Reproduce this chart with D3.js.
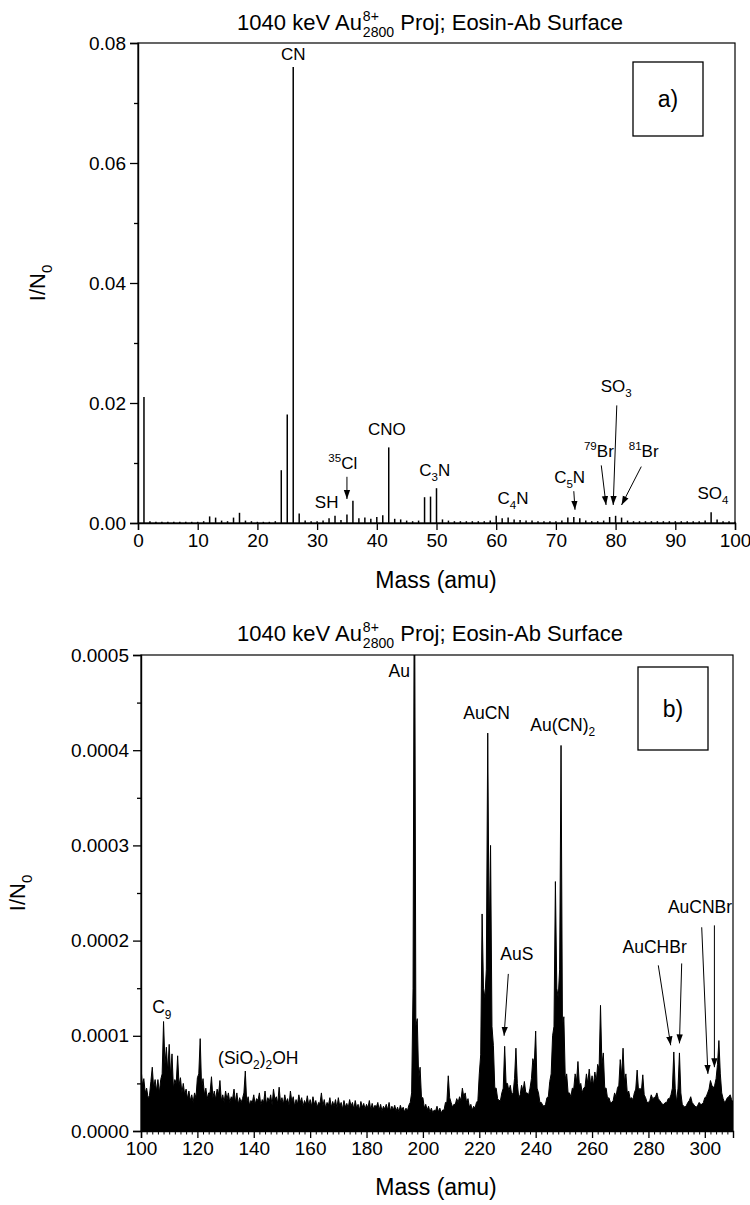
<!DOCTYPE html>
<html>
<head>
<meta charset="utf-8">
<script src="https://cdn.jsdelivr.net/npm/d3@7"></script>
<style>
  body { margin: 0; background: #fff; }
  svg { display: block; font-family: "Liberation Sans", Arial, sans-serif; }
</style>
</head>
<body>
<svg id="fig" width="750" height="1205"></svg>
<script>
// ---------- Panel a: 0–100 amu, one intensity per integer mass (I/N0) ----------
const massA = d3.range(0, 101);
const intensityA = [
  0.0000, 0.0210, 0.0003, 0.0002, 0.0002, 0.0002, 0.0002, 0.0002, 0.0002, 0.0002,
  0.0002, 0.0003, 0.0011, 0.0009, 0.0004, 0.0003, 0.0009, 0.0017, 0.0004, 0.0003,
  0.0002, 0.0002, 0.0002, 0.0003, 0.0088, 0.0181, 0.0760, 0.0016, 0.0004, 0.0003,
  0.0003, 0.0004, 0.0008, 0.0012, 0.0005, 0.0014, 0.0037, 0.0008, 0.0009, 0.0007,
  0.0010, 0.0013, 0.0126, 0.0007, 0.0006, 0.0004, 0.0003, 0.0004, 0.0043, 0.0044,
  0.0058, 0.0006, 0.0004, 0.0003, 0.0003, 0.0003, 0.0003, 0.0003, 0.0003, 0.0004,
  0.0012, 0.0008, 0.0009, 0.0006, 0.0005, 0.0004, 0.0004, 0.0003, 0.0003, 0.0003,
  0.0003, 0.0004, 0.0009, 0.0010, 0.0008, 0.0004, 0.0003, 0.0003, 0.0004, 0.0010,
  0.0012, 0.0009, 0.0004, 0.0003, 0.0003, 0.0003, 0.0003, 0.0003, 0.0003, 0.0003,
  0.0003, 0.0003, 0.0003, 0.0003, 0.0003, 0.0004, 0.0018, 0.0006, 0.0003, 0.0003,
  0.0002
];
const xTicksA = [0, 10, 20, 30, 40, 50, 60, 70, 80, 90, 100];
const yTicksA = [0, 0.02, 0.04, 0.06, 0.08];
const yMinorA = [0.01, 0.03, 0.05, 0.07];

// Peak labels for panel a: text pieces, anchor (mass, I/N0), optional arrow
const labelsA = [
  { parts: [["CN"]], m: 26, v: 0.0782 },
  { parts: [["SH"]], m: 31.6, v: 0.0035 },
  { parts: [["35", "sup"], ["Cl"]], m: 34.3, v: 0.0100, arrow: [35, 0.0077, 35, 0.0040] },
  { parts: [["CNO"]], m: 41.7, v: 0.0156 },
  { parts: [["C"], ["3", "sub"], ["N"]], m: 49.7, v: 0.0088 },
  { parts: [["C"], ["4", "sub"], ["N"]], m: 62.8, v: 0.0041 },
  { parts: [["C"], ["5", "sub"], ["N"]], m: 72.3, v: 0.0077, arrow: [73.0, 0.0053, 73.2, 0.0022] },
  { parts: [["79", "sup"], ["Br"]], m: 77.2, v: 0.0120, arrow: [77.6, 0.0096, 78.4, 0.0030] },
  { parts: [["SO"], ["3", "sub"]], m: 80.1, v: 0.0228, arrow: [80.2, 0.0196, 79.6, 0.0030] },
  { parts: [["81", "sup"], ["Br"]], m: 84.7, v: 0.0120, arrow: [84.3, 0.0094, 81.0, 0.0030] },
  { parts: [["SO"], ["4", "sub"]], m: 96.3, v: 0.0050 }
];

// ---------- Panel b: 100–310 amu, units of 1e-6 ----------
// intensity at each integer mass
const massB = d3.range(100, 311);
const intensityB_e6 = [
   67,  55,  45,  37,  67,  54,  54,  54, 115,  88,   // 100–109
   91,  81,  54,  79,  56,  50,  44,  42,  38,  40,   // 110–119
   56,  97,  55,  45,  40,  57,  42,  44,  53,  38,   // 120–129
   42,  40,  36,  44,  40,  35,  34,  63,  36,  32,   // 130–139
   38,  34,  40,  33,  42,  35,  38,  44,  36,  46,   // 140–149
   35,  38,  34,  42,  36,  33,  38,  35,  32,  37,   // 150–159
   33,  36,  32,  30,  40,  33,  30,  35,  31,  33,   // 160–169
   35,  30,  32,  29,  33,  30,  32,  28,  31,  29,   // 170–179
   28,  32,  29,  27,  30,  28,  26,  28,  30,  26,   // 180–189
   27,  25,  27,  25,  24,  27,  40, 650, 118,  67,   // 190–199
   35,  28,  26,  24,  22,  26,  24,  22,  30,  58,   // 200–209
   30,  28,  34,  36,  45,  40,  34,  28,  26,  30,   // 210–219
   60, 228, 140, 418, 300,  90,  45,  32,  40,  89,   // 220–229
   50,  48,  40,  87,  35,  48,  52,  40,  45,  76,   // 230–239
  105,  40,  30,  26,  35,  52, 100, 262, 140, 405,   // 240–249
  120,  60,  40,  45,  60,  73,  50,  45,  60,  65,   // 250–259
   58,  62,  70, 132,  82,  45,  35,  30,  40,  45,   // 260–269
   75,  87,  60,  42,  35,  40,  64,  45,  59,  35,   // 270–279
   30,  38,  35,  40,  32,  28,  30,  34,  38,  83,   // 280–289
   30,  82,  28,  25,  30,  36,  28,  25,  30,  28,   // 290–299
   35,  40,  53,  45,  55,  95,  40,  30,  35,  38,   // 300–309
   30                                                 // 310
];
// intensity between integer masses (at m + 0.5, m = 100…309)
const halfB_e6 = [
   48,  40,  35,  52,  45,  42,  40,  60,  70,  62,   // 100.5–109.5
   58,  45,  50,  48,  40,  38,  34,  32,  30,  35,   // 110.5–119.5
   60,  45,  38,  34,  40,  35,  33,  38,  32,  30,   // 120.5–129.5
   33,  30,  34,  30,  28,  30,  40,  30,  27,  30,   // 130.5–139.5
   28,  32,  27,  30,  28,  31,  27,  33,  29,  30,   // 140.5–149.5
   28,  30,  27,  31,  26,  28,  30,  26,  28,  27,   // 150.5–159.5
   26,  28,  25,  29,  26,  24,  27,  25,  26,  24,   // 160.5–169.5
   26,  23,  25,  24,  26,  23,  24,  22,  25,  23,   // 170.5–179.5
   24,  22,  23,  25,  22,  21,  23,  22,  21,  22,   // 180.5–189.5
   21,  20,  22,  20,  21,  30, 150, 110,  55,  35,   // 190.5–199.5
   24,  22,  20,  19,  21,  20,  19,  22,  30,  35,   // 200.5–209.5
   25,  28,  30,  32,  36,  30,  25,  22,  24,  32,   // 210.5–219.5
   80, 150, 170, 200, 110,  45,  34,  32,  45,  50,   // 220.5–229.5
   42,  38,  55,  50,  38,  42,  40,  38,  55,  70,   // 230.5–239.5
   45,  30,  27,  28,  36,  60, 110, 150, 170, 110,   // 240.5–249.5
   55,  40,  36,  44,  52,  48,  40,  46,  50,  48,   // 250.5–259.5
   48,  52,  65,  70,  45,  34,  30,  32,  36,  48,   // 260.5–269.5
   58,  52,  40,  34,  33,  44,  42,  42,  38,  30,   // 270.5–279.5
   32,  34,  36,  34,  30,  28,  30,  34,  45,  45,   // 280.5–289.5
   45,  40,  26,  27,  32,  30,  26,  27,  28,  30,   // 290.5–299.5
   36,  44,  48,  48,  70,  60,  34,  32,  36,  33    // 300.5–309.5
];
// Dense noise floor under the spectrum, every 10 amu (units of 1e-6)
const floorMassB = d3.range(100, 311, 10);
const floorB_e6 = [32, 30, 26, 22, 18, 16, 15, 14, 13, 13, 14, 16, 24, 26, 24, 26, 26, 24, 22, 20, 22, 22];
const xTicksB = [100, 120, 140, 160, 180, 200, 220, 240, 260, 280, 300];
const xMinorB = d3.range(102, 311, 2).filter(d => d % 20 !== 0);
const yTicksB = [0, 0.0001, 0.0002, 0.0003, 0.0004, 0.0005];
const yMinorB = [0.00005, 0.00015, 0.00025, 0.00035, 0.00045];

const labelsB = [
  { parts: [["Au"]], m: 191.6, v: 0.000483 },
  { parts: [["AuCN"]], m: 222.6, v: 0.000439 },
  { parts: [["Au(CN)"], ["2", "sub"]], m: 249.6, v: 0.000427 },
  { parts: [["AuS"]], m: 233.3, v: 0.000186, arrows: [[230.3, 0.000165, 228.8, 0.000100]] },
  { parts: [["AuCHBr"]], m: 282.2, v: 0.000193,
    arrows: [[283.5, 0.000174, 287.9, 0.000090], [291.8, 0.000176, 291.0, 0.000092]] },
  { parts: [["AuCNBr"]], m: 298.3, v: 0.000235,
    arrows: [[298.9, 0.000214, 301.1, 0.000060], [303.4, 0.000216, 303.4, 0.000067]] },
  { parts: [["C"], ["9", "sub"]], m: 107.4, v: 0.000130 },
  { parts: [["(SiO"], ["2", "sub"], [")"], ["2", "sub"], ["OH"]], m: 141.6, v: 0.0000772 }
];

const titleText = ["1040 keV Au", "8+", "2800", "Proj; Eosin-Ab Surface"];

// ---------- drawing ----------
const svg = d3.select("#fig");
const TICK_FONT = 19, LABEL_FONT = 17.5, TITLE_FONT = 22, AXIS_TITLE_FONT = 23;

svg.append("defs").append("marker")
  .attr("id", "head")
  .attr("viewBox", "0 0 10 10")
  .attr("refX", 10).attr("refY", 5)
  .attr("markerWidth", 9).attr("markerHeight", 10)
  .attr("markerUnits", "userSpaceOnUse")
  .attr("orient", "auto")
  .append("path").attr("d", "M0,1.5 L10,5 L0,8.5 Z").attr("fill", "#000");

// Writes text made of plain / superscript / subscript pieces into a <text>
function richText(textSel, parts, size) {
  parts.forEach(([s, kind], i) => {
    const t = textSel.append("tspan").text(s);
    if (kind === "sup") {
      t.attr("font-size", size * 0.68).attr("dy", -size * 0.42);
    } else if (kind === "sub") {
      t.attr("font-size", size * 0.68).attr("dy", size * 0.3);
    } else if (i > 0 && parts[i - 1][1]) {
      t.attr("dy", parts[i - 1][1] === "sup" ? size * 0.42 : -size * 0.3);
    }
  });
}

// Title with stacked charge (superscript) and cluster size (subscript)
function drawTitle(cx, baseline) {
  const size = TITLE_FONT;
  const g = svg.append("g");
  const t1 = g.append("text").attr("font-size", size).attr("y", baseline).text(titleText[0]);
  const w1 = t1.node().getComputedTextLength();
  const sup = g.append("text").attr("font-size", size * 0.64).attr("x", w1 + 1)
    .attr("y", baseline - size * 0.42).text(titleText[1]);
  const sub = g.append("text").attr("font-size", size * 0.64).attr("x", w1 + 1)
    .attr("y", baseline + size * 0.32).text(titleText[2]);
  const ws = Math.max(sup.node().getComputedTextLength(), sub.node().getComputedTextLength());
  const gap = size * 0.28;
  const t2 = g.append("text").attr("font-size", size).attr("x", w1 + 1 + ws + gap)
    .attr("y", baseline).text(titleText[3]);
  const total = w1 + 1 + ws + gap + t2.node().getComputedTextLength();
  g.attr("transform", `translate(${cx - total / 2},0)`);
}

function drawYLabel(cx, cy) {
  const t = svg.append("text").attr("font-size", AXIS_TITLE_FONT - 1)
    .attr("text-anchor", "middle")
    .attr("transform", `translate(${cx},${cy}) rotate(-90)`);
  richText(t, [["I/N"], ["0", "sub"]], AXIS_TITLE_FONT - 1);
}

function frame(x, y) {
  const [x0, x1] = x.range(), [y0, y1] = y.range();
  svg.append("rect").attr("x", x0).attr("y", y1).attr("width", x1 - x0).attr("height", y0 - y1)
    .attr("fill", "none").attr("stroke", "#000").attr("stroke-width", 1.2);
}

function styleAxis(g) {
  g.select(".domain").attr("stroke-width", 1.4);
  g.selectAll(".tick line").attr("stroke-width", 1.3);
  g.selectAll(".tick text").attr("font-size", TICK_FONT)
    .attr("font-family", "'Liberation Sans', Arial, sans-serif").attr("fill", "#000");
}

function drawLabels(labels, x, y, size) {
  labels.forEach(L => {
    const t = svg.append("text").attr("font-size", size)
      .attr("text-anchor", "middle")
      .attr("x", x(L.m)).attr("y", y(L.v) + size * 0.35);
    richText(t, L.parts, size);
    const arrows = L.arrows || (L.arrow ? [L.arrow] : []);
    arrows.forEach(a => {
      svg.append("line")
        .attr("x1", x(a[0])).attr("y1", y(a[1]))
        .attr("x2", x(a[2])).attr("y2", y(a[3]))
        .attr("stroke", "#000").attr("stroke-width", 1)
        .attr("marker-end", "url(#head)");
    });
  });
}

function panelTag(x0, y0, w, h, tag) {
  svg.append("rect").attr("x", x0).attr("y", y0).attr("width", w).attr("height", h)
    .attr("fill", "#fff").attr("stroke", "#000").attr("stroke-width", 1.3);
  svg.append("text").attr("x", x0 + w / 2).attr("y", y0 + h / 2 + 8)
    .attr("text-anchor", "middle").attr("font-size", 23).text(tag);
}

// ----- Panel a -----
{
  const x = d3.scaleLinear().domain([0, 100]).range([138, 735]);
  const y = d3.scaleLinear().domain([0, 0.08]).range([523, 43]);

  drawTitle(430, 30);

  svg.append("g").selectAll("line").data(massA).join("line")
    .attr("x1", d => x(d)).attr("x2", d => x(d))
    .attr("y1", y(0)).attr("y2", (d, i) => y(intensityA[i]))
    .attr("stroke", "#000").attr("stroke-width", 1.5);

  frame(x, y);
  panelTag(633, 62, 70, 74, "a)");

  const ya = svg.append("g").attr("transform", `translate(${x(0)},0)`)
    .call(d3.axisLeft(y).tickValues(yTicksA).tickFormat(d3.format(".2f")).tickSize(8).tickPadding(4));
  styleAxis(ya);
  svg.append("g").attr("transform", `translate(${x(0)},0)`)
    .call(d3.axisLeft(y).tickValues(yMinorA).tickFormat("").tickSize(4))
    .call(g => { g.select(".domain").remove(); g.selectAll("line").attr("stroke-width", 1.3); });

  const xa = svg.append("g").attr("transform", `translate(0,${y(0)})`)
    .call(d3.axisBottom(x).tickValues(xTicksA).tickFormat(d3.format("d")).tickSize(7).tickPadding(4));
  styleAxis(xa);

  drawLabels(labelsA, x, y, LABEL_FONT - 0.5);

  svg.append("text").attr("x", 436).attr("y", 588).attr("text-anchor", "middle")
    .attr("font-size", AXIS_TITLE_FONT).text("Mass (amu)");
  drawYLabel(45, (y(0) + y(0.08)) / 2);
}

// ----- Panel b -----
{
  const x = d3.scaleLinear().domain([100, 310]).range([141, 733]);
  const y = d3.scaleLinear().domain([0, 0.0005]).range([1131, 655]);

  drawTitle(430, 641);

  svg.append("clipPath").attr("id", "clipB").append("rect")
    .attr("x", 141).attr("y", 655).attr("width", 592).attr("height", 476);
  const plot = svg.append("g").attr("clip-path", "url(#clipB)");

  // merge integer and half-integer samples into one trace
  const trace = [];
  massB.forEach((m, i) => {
    trace.push([m, intensityB_e6[i] * 1e-6]);
    if (i < halfB_e6.length) trace.push([m + 0.5, halfB_e6[i] * 1e-6]);
  });

  plot.append("path")
    .datum(floorMassB)
    .attr("d", d3.area().x(d => x(d)).y0(y(0)).y1((d, i) => y(floorB_e6[i] * 1e-6)))
    .attr("fill", "#000");

  plot.append("path")
    .datum(trace)
    .attr("d", d3.area().x(d => x(d[0])).y0(y(0)).y1(d => y(d[1])))
    .attr("fill", "#000");

  plot.append("path")
    .datum(trace)
    .attr("d", d3.line().x(d => x(d[0])).y(d => y(d[1])))
    .attr("fill", "none").attr("stroke", "#000").attr("stroke-width", 1)
    .attr("stroke-linejoin", "miter").attr("stroke-miterlimit", 2);

  frame(x, y);
  panelTag(638, 667, 70, 83, "b)");

  const ya = svg.append("g").attr("transform", `translate(${x(100)},0)`)
    .call(d3.axisLeft(y).tickValues(yTicksB).tickFormat(d3.format(".4f")).tickSize(8).tickPadding(4));
  styleAxis(ya);
  svg.append("g").attr("transform", `translate(${x(100)},0)`)
    .call(d3.axisLeft(y).tickValues(yMinorB).tickFormat("").tickSize(4))
    .call(g => { g.select(".domain").remove(); g.selectAll("line").attr("stroke-width", 1.3); });

  const xa = svg.append("g").attr("transform", `translate(0,${y(0)})`)
    .call(d3.axisBottom(x).tickValues(xTicksB).tickFormat(d3.format("d")).tickSize(7).tickPadding(4));
  styleAxis(xa);
  svg.append("g").attr("transform", `translate(0,${y(0)})`)
    .call(d3.axisBottom(x).tickValues(xMinorB).tickFormat("").tickSize(3.5))
    .call(g => { g.select(".domain").remove(); g.selectAll("line").attr("stroke-width", 1); });

  drawLabels(labelsB, x, y, LABEL_FONT);

  svg.append("text").attr("x", 436).attr("y", 1195).attr("text-anchor", "middle")
    .attr("font-size", AXIS_TITLE_FONT).text("Mass (amu)");
  drawYLabel(25, (y(0) + y(0.0005)) / 2);
}
</script>
</body>
</html>
